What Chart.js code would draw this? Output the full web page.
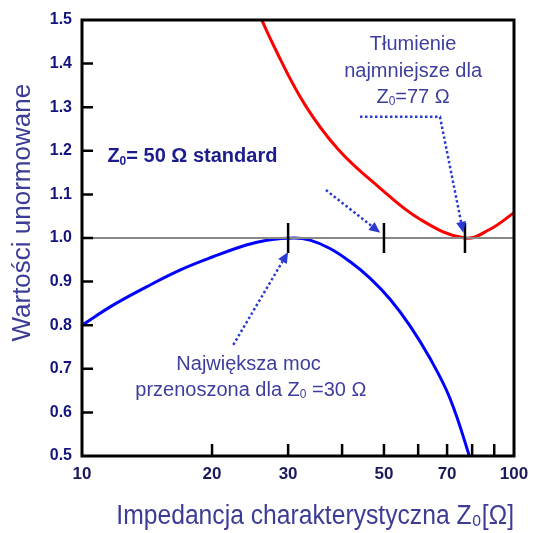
<!DOCTYPE html>
<html>
<head>
<meta charset="utf-8">
<script src="https://cdn.jsdelivr.net/npm/chart.js@4"></script>
<style>
  html, body { margin: 0; padding: 0; background: #fff; }
</style>
</head>
<body>
<canvas id="chart" width="534" height="533"></canvas>
<script>
// Blue: transmitted power (normalized), Red: attenuation (normalized)
const powerZ   = [10, 11.8, 14.1, 16.9, 20.1, 24, 26.8, 31, 33.7, 37.5, 41.7, 46.4, 51.6, 57.5, 63.9, 71.1, 79.1, 82];
const powerVal = [0.80, 0.846, 0.888, 0.927, 0.957, 0.984, 0.995, 1.0, 0.995, 0.976, 0.946, 0.908, 0.860, 0.798, 0.724, 0.632, 0.495, 0.44];
const lossZ    = [24.5, 28, 32.8, 39.2, 48.5, 60.6, 77, 88, 100];
const lossVal  = [1.56, 1.434, 1.306, 1.203, 1.118, 1.043, 1.0, 1.02, 1.058];
const refZ     = [10, 100];
const markerZ  = [30, 50, 77];
const xTicks   = [10, 20, 30, 40, 50, 60, 70, 80, 90, 100];
const xLabels  = [10, 20, 30, 50, 70, 100];
const yTicks   = [0.5, 0.6, 0.7, 0.8, 0.9, 1.0, 1.1, 1.2, 1.3, 1.4, 1.5];

const tickFont = '"Liberation Sans", Arial, sans-serif';
const textFont = '"Liberation Sans", Arial, sans-serif';

// dotted arrows, in data coordinates [Z, value]
const arrows = [
  [[36.7, 1.11], [49, 1.012]],
  [[44, 1.278], [67.4, 1.278], [76.3, 1.012]],
  [[22.4, 0.755], [30, 0.968]]
];

// annotation texts: [text, isSubscript]
const notes = [
  { x: 58.4, y: 1.443, bold: false, color: '#3e3e9c', align: 'center', parts: [['Tłumienie']] },
  { x: 58.4, y: 1.383, bold: false, color: '#3e3e9c', align: 'center', parts: [['najmniejsze dla']] },
  { x: 58.4, y: 1.323, bold: false, color: '#3e3e9c', align: 'center', parts: [['Z'], ['0', true], ['=77 Ω']] },
  { x: 11.45, y: 1.186, bold: true, color: '#1c1c8c', align: 'left', parts: [['Z'], ['0', true], ['= 50 Ω standard']] },
  { x: 24.3, y: 0.711, bold: false, color: '#3e3e9c', align: 'center', parts: [['Największa moc']] },
  { x: 24.6, y: 0.651, bold: false, color: '#3e3e9c', align: 'center', parts: [['przenoszona dla Z'], ['0', true], [' =30 Ω']] }
];

function drawNote(ctx, n, px, py) {
  const size = 20;
  const w = n.bold ? 'bold ' : '';
  const main = w + size + 'px ' + textFont;
  const sub = w + Math.round(size * 0.62) + 'px ' + textFont;
  let total = 0;
  n.parts.forEach(p => { ctx.font = p[1] ? sub : main; total += ctx.measureText(p[0]).width; });
  let x = n.align === 'center' ? px - total / 2 : px;
  ctx.fillStyle = n.color;
  ctx.textAlign = 'left';
  ctx.textBaseline = 'middle';
  n.parts.forEach(p => {
    ctx.font = p[1] ? sub : main;
    ctx.fillText(p[0], x, p[1] ? py + 5 : py);
    x += ctx.measureText(p[0]).width;
  });
}

const decor = {
  id: 'decor',
  afterDatasetsDraw(chart) {
    const { ctx, chartArea: a, scales: { x, y } } = chart;
    ctx.save();
    ctx.strokeStyle = '#000';
    ctx.lineCap = 'butt';

    // inner tick marks
    ctx.lineWidth = 2.5;
    ctx.beginPath();
    xTicks.slice(1, -1).forEach(v => {
      const px = x.getPixelForValue(v);
      ctx.moveTo(px, a.bottom); ctx.lineTo(px, a.bottom - 12);
    });
    yTicks.slice(1, -1).forEach(v => {
      const py = y.getPixelForValue(v);
      ctx.moveTo(a.left, py); ctx.lineTo(a.left + 11, py);
    });
    // markers on the 1.0 line
    markerZ.forEach(z => {
      const px = x.getPixelForValue(z), py = y.getPixelForValue(1);
      ctx.moveTo(px, py - 15); ctx.lineTo(px, py + 15);
    });
    ctx.stroke();

    // frame
    ctx.lineWidth = 3;
    ctx.strokeRect(a.left, a.top, a.right - a.left, a.bottom - a.top);

    // dotted arrows
    ctx.strokeStyle = ctx.fillStyle = '#2b3bd0';
    arrows.forEach(pts => {
      const p = pts.map(d => [x.getPixelForValue(d[0]), y.getPixelForValue(d[1])]);
      const [tx, ty] = p[p.length - 1];
      const [fx, fy] = p[p.length - 2];
      const ang = Math.atan2(ty - fy, tx - fx);
      const len = 11;
      ctx.lineWidth = 2.5;
      ctx.setLineDash([2.5, 2.5]);
      ctx.beginPath();
      ctx.moveTo(p[0][0], p[0][1]);
      for (let i = 1; i < p.length - 1; i++) ctx.lineTo(p[i][0], p[i][1]);
      ctx.lineTo(tx - len * Math.cos(ang), ty - len * Math.sin(ang));
      ctx.stroke();
      ctx.setLineDash([]);
      ctx.beginPath();
      ctx.moveTo(tx, ty);
      ctx.lineTo(tx - len * Math.cos(ang) + 5 * Math.sin(ang), ty - len * Math.sin(ang) - 5 * Math.cos(ang));
      ctx.lineTo(tx - len * Math.cos(ang) - 5 * Math.sin(ang), ty - len * Math.sin(ang) + 5 * Math.cos(ang));
      ctx.closePath();
      ctx.fill();
    });

    notes.forEach(n => drawNote(ctx, n, x.getPixelForValue(n.x), y.getPixelForValue(n.y)));
    ctx.restore();
  }
};

new Chart(document.getElementById('chart'), {
  type: 'line',
  data: {
    datasets: [
      {
        data: refZ.map(z => ({ x: z, y: 1 })),
        borderColor: '#888888', borderWidth: 2, pointRadius: 0
      },
      {
        data: powerZ.map((z, i) => ({ x: z, y: powerVal[i] })),
        borderColor: '#0000ff', borderWidth: 3, pointRadius: 0,
        tension: 0.4
      },
      {
        data: lossZ.map((z, i) => ({ x: z, y: lossVal[i] })),
        borderColor: '#ff0000', borderWidth: 3, pointRadius: 0,
        tension: 0.4
      }
    ]
  },
  options: {
    responsive: false,
    animation: false,
    devicePixelRatio: 1,
    clip: 0,
    layout: { padding: { left: 4, right: 20, top: 20, bottom: 0 } },
    plugins: { legend: { display: false }, tooltip: { enabled: false } },
    scales: {
      x: {
        type: 'logarithmic',
        min: 10, max: 100,
        afterBuildTicks: s => { s.ticks = xTicks.map(v => ({ value: v })); },
        afterFit: s => { s.height = 77; s.paddingLeft = 0; s.paddingRight = 0; },
        grid: { display: false, drawTicks: false },
        border: { display: false },
        ticks: {
          autoSkip: false, maxRotation: 0, padding: 8,
          color: '#1a1a5a',
          font: { family: tickFont, size: 17, weight: 'bold' },
          callback: v => xLabels.includes(v) ? String(v) : ''
        },
        title: {
          display: true,
          text: '     Impedancja charakterystyczna Z₀[Ω]',
          color: '#3c3c96',
          font: { family: textFont, size: 27 },
          padding: { top: 0, bottom: 0 }
        }
      },
      y: {
        min: 0.5, max: 1.5,
        afterBuildTicks: s => { s.ticks = yTicks.map(v => ({ value: v })); },
        afterFit: s => { s.width = 78; s.paddingTop = 0; s.paddingBottom = 0; },
        grid: { display: false, drawTicks: false },
        border: { display: false },
        ticks: {
          padding: 10,
          color: '#14147e',
          font: { family: tickFont, size: 16, weight: 'bold' },
          callback: v => v.toFixed(1)
        },
        title: {
          display: true,
          text: '       Wartości unormowane',
          color: '#3c3c96',
          font: { family: textFont, size: 26 },
          padding: { top: 3, bottom: 0 }
        }
      }
    }
  },
  plugins: [decor]
});
</script>
</body>
</html>
